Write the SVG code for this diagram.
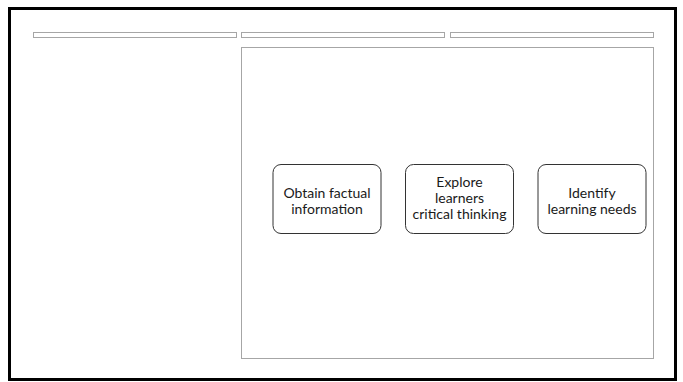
<svg xmlns="http://www.w3.org/2000/svg" width="683" height="382" viewBox="0 0 683 382">
<style>
.bar{fill:#fff;stroke:#a6a6a6;stroke-width:1}
.node rect{fill:#fff;stroke:#333;stroke-width:1}
.node text{font-family:Lato,"Liberation Sans",sans-serif;font-size:14px;fill:#1a1a1a;text-anchor:middle}
</style>
<rect x="0" y="0" width="683" height="382" fill="#fff"/>
<rect x="9.5" y="8.5" width="666" height="371" fill="none" stroke="#000" stroke-width="3"/>
<rect class="bar" x="33.5" y="32.5" width="203" height="5"/>
<rect class="bar" x="241.5" y="32.5" width="203" height="5"/>
<rect class="bar" x="450.5" y="32.5" width="203" height="5"/>
<rect class="bar" x="241.5" y="47.5" width="412" height="311"/>
<g id="connectors"></g>
<g id="node1" class="node">
<rect x="273" y="164.5" width="108" height="69" rx="8"/>
<text x="327" y="197.5">Obtain factual</text>
<text x="327" y="213.5">information</text>
</g>
<g id="node2" class="node">
<rect x="405.5" y="164.5" width="108" height="69" rx="8"/>
<text x="459.5" y="187">Explore</text>
<text x="459.5" y="203">learners</text>
<text x="459.5" y="219">critical thinking</text>
</g>
<g id="node3" class="node">
<rect x="538" y="164.5" width="108" height="69" rx="8"/>
<text x="592" y="197.5">Identify</text>
<text x="592" y="213.5">learning needs</text>
</g>
</svg>
